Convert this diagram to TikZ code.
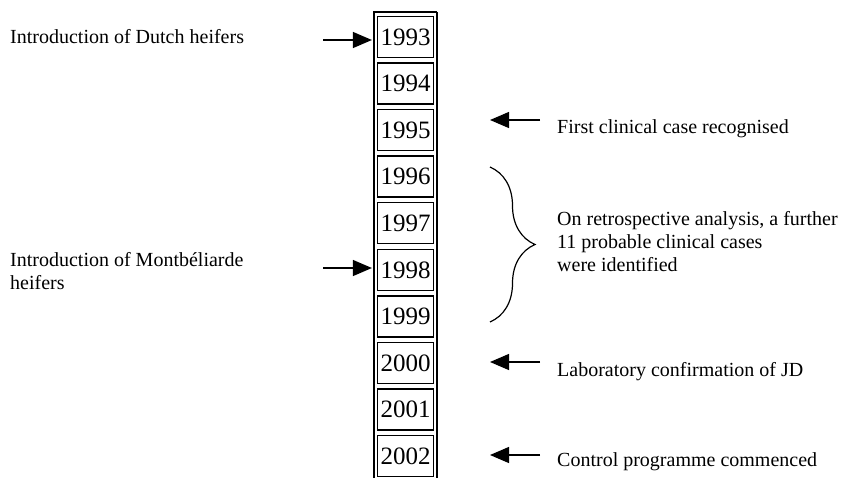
\documentclass[tikz,border=0pt]{standalone}
\usepackage{fontspec}
\setmainfont{Liberation Serif}
\usetikzlibrary{arrows.meta,decorations.pathreplacing}
\tikzset{
    yearbox/.style={draw,line width=1.2pt,minimum width=56pt,minimum height=41pt,inner sep=0pt,font=\fontsize{25}{30}\selectfont},
    note/.style={anchor=west,inner sep=0pt,align=left,font=\fontsize{20}{23}\selectfont},
    arr/.style={line width=1.2pt,-{Triangle[length=19pt,width=16pt]}}
}
\begin{document}
\begin{tikzpicture}[x=1pt,y=-1pt]
        \useasboundingbox (0,0) rectangle (846,477);
        % column of years
        \draw[line width=1.2pt] (437,12) -- (374,12) -- (374,480);
        \draw[line width=1.2pt] (437,12) -- (437,480);
        \node[yearbox] (y1993) at (405.5,37) {1993};
        \node[yearbox] (y1994) at (405.5,83.5) {1994};
        \node[yearbox] (y1995) at (405.5,130) {1995};
        \node[yearbox] (y1996) at (405.5,176.5) {1996};
        \node[yearbox] (y1997) at (405.5,223) {1997};
        \node[yearbox] (y1998) at (405.5,270) {1998};
        \node[yearbox] (y1999) at (405.5,316.5) {1999};
        \node[yearbox] (y2000) at (405.5,363) {2000};
        \node[yearbox] (y2001) at (405.5,409.5) {2001};
        \node[yearbox] (y2002) at (405.5,456) {2002};
        % left side
        \node[note] (dutch) at (10,37) {Introduction of Dutch heifers};
        \node[note] (montb) at (10,271) {Introduction of Montb\'eliarde\\heifers};
        \coordinate (d0) at (323,40);
        \coordinate (m0) at (323,268);
        \draw[arr] (d0) -- ([xshift=-5pt]d0 -| y1993.west);
        \draw[arr] (m0) -- ([xshift=-5pt]m0 -| y1998.west);
        % right side
        \coordinate (f0) at (540,120);
        \coordinate (f1) at (490,120);
        \coordinate (l0) at (540,362);
        \coordinate (l1) at (490,362);
        \coordinate (c0) at (540,455);
        \coordinate (c1) at (490,455);
        \draw[arr] (f0) -- (f1);
        \draw[arr] (l0) -- (l1);
        \draw[arr] (c0) -- (c1);
        \node[note] (first) at (557,129) {First clinical case recognised};
        \node[note] (lab) at (557,372) {Laboratory confirmation of JD};
        \node[note] (ctrl) at (557,462) {Control programme commenced};
        \coordinate (b0) at (490,167);
        \coordinate (b1) at (490,322);
        \draw[line width=1.2pt,decorate,decoration={brace,amplitude=45pt}] (b0) -- (b1);
        \node[note] (retro) at (557,242) {On retrospective analysis, a further\\11 probable clinical cases\\were identified};
    \end{tikzpicture}
\end{document}
